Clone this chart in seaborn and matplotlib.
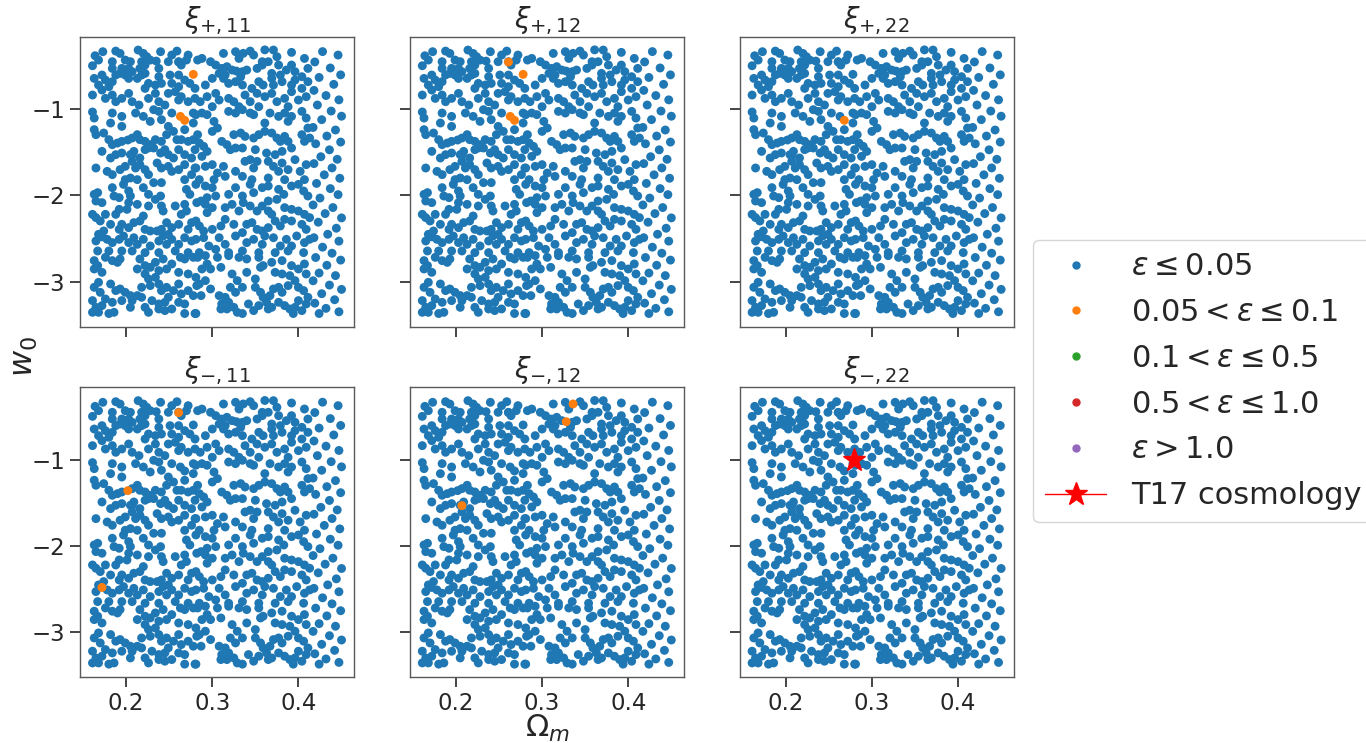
import numpy as np
import pandas as pd
import seaborn as sns
import matplotlib.pyplot as plt
from matplotlib.lines import Line2D

# cosmologies of the sample (Omega_m, w0), same in all six
special = [(0.278, -0.594), (0.263, -1.082), (0.268, -1.128), (0.261, -0.451), (0.202, -1.356),
           (0.172, -2.48), (0.336, -0.35), (0.328, -0.556), (0.207, -1.53)]

region_a = [(0.164, -0.378), (0.173, -0.331), (0.161, -0.494), (0.168, -0.428), (0.184, -0.447), (0.188, -0.324),
            (0.193, -0.351), (0.184, -0.525), (0.199, -0.428), (0.205, -0.447), (0.195, -0.525), (0.203, -0.525),
            (0.214, -0.312), (0.220, -0.351), (0.224, -0.389), (0.218, -0.447), (0.216, -0.525), (0.222, -0.486),
            (0.228, -0.428), (0.235, -0.440), (0.240, -0.331), (0.238, -0.525), (0.249, -0.447), (0.259, -0.324),
            (0.253, -0.370), (0.261, -0.447), (0.264, -0.486), (0.272, -0.370), (0.270, -0.428),
            (0.163, -0.641), (0.172, -0.602), (0.176, -0.660), (0.168, -0.718), (0.180, -0.737), (0.184, -0.679),
            (0.188, -0.602), (0.193, -0.583), (0.199, -0.602), (0.203, -0.641), (0.207, -0.563), (0.213, -0.641),
            (0.218, -0.602), (0.222, -0.583), (0.226, -0.699), (0.234, -0.718), (0.238, -0.621), (0.241, -0.699),
            (0.251, -0.602), (0.253, -0.699), (0.261, -0.602), (0.261, -0.737), (0.268, -0.660), (0.274, -0.699),
            (0.280, -0.757),
            (0.161, -0.834), (0.172, -0.776), (0.176, -0.873), (0.184, -0.834), (0.188, -0.911), (0.195, -0.873),
            (0.203, -0.815), (0.207, -0.911), (0.215, -0.950), (0.222, -0.757), (0.226, -0.873), (0.234, -0.815),
            (0.238, -0.911), (0.249, -0.815), (0.245, -0.950), (0.257, -0.795), (0.261, -0.892), (0.264, -0.853),
            (0.272, -0.911), (0.280, -0.873)]

region_b = [(0.313, -0.351), (0.327, -0.331), (0.331, -0.409), (0.344, -0.324), (0.348, -0.370), (0.361, -0.310),
            (0.371, -0.312), (0.375, -0.389), (0.358, -0.447), (0.392, -0.339), (0.392, -0.486), (0.407, -0.409),
            (0.411, -0.525),
            (0.283, -0.428), (0.288, -0.409), (0.298, -0.447), (0.304, -0.486), (0.311, -0.525), (0.317, -0.505),
            (0.323, -0.544), (0.308, -0.583), (0.315, -0.602), (0.335, -0.563), (0.340, -0.544), (0.352, -0.525),
            (0.358, -0.486), (0.365, -0.447), (0.369, -0.583), (0.377, -0.486), (0.379, -0.602), (0.386, -0.544),
            (0.396, -0.563), (0.404, -0.621),
            (0.292, -0.718), (0.300, -0.641), (0.313, -0.641), (0.319, -0.699), (0.327, -0.679), (0.335, -0.718),
            (0.333, -0.621), (0.346, -0.757), (0.354, -0.679), (0.359, -0.718), (0.369, -0.641), (0.371, -0.718),
            (0.381, -0.679), (0.392, -0.718), (0.396, -0.660), (0.404, -0.757), (0.411, -0.679),
            (0.286, -0.911), (0.294, -0.853), (0.304, -0.815), (0.308, -0.892), (0.319, -0.873), (0.325, -0.911),
            (0.338, -0.834), (0.344, -0.911), (0.352, -0.815), (0.361, -0.853), (0.369, -0.815), (0.375, -0.911),
            (0.384, -0.873), (0.392, -0.795), (0.400, -0.892), (0.409, -0.853), (0.300, -0.969), (0.331, -0.969),
            (0.354, -0.969), (0.388, -0.969)]

region_c = [(0.161, -1.031), (0.163, -1.101), (0.184, -1.043), (0.182, -1.159), (0.195, -1.082), (0.195, -1.198),
            (0.211, -1.043), (0.220, -1.082), (0.228, -1.140), (0.232, -1.004), (0.238, -1.024), (0.241, -1.120),
            (0.249, -1.198), (0.255, -1.256), (0.268, -1.236), (0.278, -1.159), (0.278, -1.043), (0.253, -1.043),
            (0.163, -1.236), (0.165, -1.294), (0.174, -1.275), (0.180, -1.352), (0.184, -1.410), (0.190, -1.391),
            (0.195, -1.372), (0.207, -1.333), (0.213, -1.294), (0.216, -1.352), (0.222, -1.372),
            (0.228, -1.410), (0.234, -1.352), (0.241, -1.372), (0.247, -1.294), (0.259, -1.352), (0.264, -1.352),
            (0.272, -1.372), (0.278, -1.352),
            (0.172, -1.488), (0.182, -1.565), (0.188, -1.526), (0.195, -1.507), (0.205, -1.526), (0.209, -1.488),
            (0.216, -1.565), (0.222, -1.468), (0.226, -1.449), (0.232, -1.449), (0.240, -1.507), (0.245, -1.468),
            (0.249, -1.526), (0.255, -1.565), (0.261, -1.468), (0.268, -1.526), (0.276, -1.565), (0.280, -1.468),
            (0.165, -1.681), (0.178, -1.720), (0.184, -1.758), (0.193, -1.700), (0.199, -1.662), (0.207, -1.604),
            (0.211, -1.681), (0.216, -1.642), (0.222, -1.700), (0.226, -1.758), (0.236, -1.623), (0.241, -1.681),
            (0.249, -1.662), (0.253, -1.720), (0.261, -1.700), (0.268, -1.642), (0.276, -1.758), (0.205, -1.797),
            (0.213, -1.816), (0.199, -1.816), (0.268, -1.816), (0.280, -1.681)]

region_d = [(0.281, -1.062), (0.288, -1.043), (0.294, -1.062), (0.302, -1.140), (0.306, -1.217), (0.300, -1.256),
            (0.319, -1.024), (0.327, -1.043), (0.335, -1.004), (0.344, -1.043), (0.348, -1.062), (0.367, -1.043),
            (0.377, -1.082), (0.384, -1.043), (0.388, -1.140), (0.392, -1.082), (0.404, -1.024), (0.409, -1.101),
            (0.411, -1.217),
            (0.283, -1.294), (0.285, -1.391), (0.290, -1.430), (0.294, -1.488), (0.288, -1.546), (0.311, -1.372),
            (0.317, -1.410), (0.321, -1.468), (0.327, -1.449), (0.325, -1.294), (0.333, -1.275), (0.338, -1.314),
            (0.335, -1.449), (0.348, -1.333), (0.354, -1.294), (0.361, -1.159), (0.361, -1.256), (0.369, -1.275),
            (0.375, -1.333), (0.379, -1.372), (0.384, -1.314), (0.388, -1.372), (0.392, -1.449), (0.404, -1.294),
            (0.407, -1.372), (0.413, -1.333), (0.350, -1.468), (0.363, -1.507), (0.373, -1.526), (0.381, -1.488),
            (0.281, -1.681), (0.292, -1.662), (0.300, -1.642), (0.306, -1.739), (0.313, -1.662), (0.315, -1.778),
            (0.327, -1.720), (0.335, -1.778), (0.338, -1.604), (0.344, -1.584), (0.348, -1.681), (0.352, -1.604),
            (0.365, -1.604), (0.371, -1.662), (0.377, -1.720), (0.381, -1.623), (0.388, -1.700), (0.396, -1.584),
            (0.402, -1.720), (0.409, -1.642), (0.285, -1.816), (0.302, -1.816), (0.346, -1.816), (0.365, -1.797),
            (0.384, -1.816), (0.407, -1.816)]

region_e = [(0.163, -1.987), (0.167, -1.967), (0.165, -2.064), (0.172, -2.083), (0.184, -1.909), (0.186, -2.006),
            (0.192, -2.025), (0.197, -1.871), (0.203, -1.948), (0.205, -2.006), (0.203, -2.083), (0.213, -2.103),
            (0.220, -1.909), (0.226, -1.987), (0.226, -2.122), (0.234, -2.045), (0.240, -2.006), (0.241, -2.122),
            (0.243, -2.180), (0.232, -1.851), (0.241, -1.851), (0.270, -1.929), (0.274, -1.987), (0.268, -2.103),
            (0.257, -2.122), (0.270, -2.180), (0.264, -2.219), (0.282, -2.083),
            (0.161, -2.219), (0.165, -2.257), (0.170, -2.296), (0.176, -2.219), (0.182, -2.335), (0.188, -2.219),
            (0.195, -2.335), (0.192, -2.393), (0.203, -2.373), (0.209, -2.315), (0.216, -2.296), (0.220, -2.238),
            (0.222, -2.393), (0.228, -2.412), (0.236, -2.412), (0.241, -2.393), (0.247, -2.315), (0.253, -2.373),
            (0.249, -2.451), (0.261, -2.335), (0.276, -2.315), (0.272, -2.393), (0.192, -2.161), (0.201, -2.161),
            (0.165, -2.528), (0.168, -2.451), (0.174, -2.412), (0.178, -2.509), (0.184, -2.547), (0.192, -2.509),
            (0.197, -2.470), (0.203, -2.547), (0.209, -2.490), (0.213, -2.567), (0.220, -2.509), (0.228, -2.586),
            (0.238, -2.528), (0.243, -2.470), (0.247, -2.567), (0.253, -2.509), (0.261, -2.567), (0.268, -2.490),
            (0.276, -2.528), (0.167, -2.644), (0.180, -2.644), (0.195, -2.644), (0.207, -2.644), (0.222, -2.663),
            (0.238, -2.663), (0.257, -2.644), (0.272, -2.663)]

region_f = [(0.281, -1.871), (0.292, -1.890), (0.300, -1.909), (0.304, -2.006), (0.294, -2.025), (0.287, -2.064),
            (0.319, -1.987), (0.327, -1.909), (0.335, -2.006), (0.336, -2.083), (0.344, -1.871), (0.348, -1.967),
            (0.358, -1.909), (0.365, -1.890), (0.377, -1.929), (0.383, -1.987), (0.392, -1.890), (0.400, -1.871),
            (0.406, -1.948), (0.411, -2.006), (0.365, -2.064), (0.375, -2.045),
            (0.292, -2.103), (0.300, -2.141), (0.294, -2.199), (0.315, -2.141), (0.323, -2.103), (0.331, -2.180),
            (0.344, -2.122), (0.352, -2.180), (0.358, -2.122), (0.365, -2.180), (0.369, -2.219), (0.373, -2.296),
            (0.384, -2.141), (0.392, -2.161), (0.400, -2.180), (0.407, -2.219), (0.413, -2.257), (0.281, -2.296),
            (0.285, -2.354), (0.290, -2.412), (0.300, -2.393), (0.310, -2.354), (0.315, -2.277), (0.325, -2.335),
            (0.340, -2.335), (0.346, -2.315), (0.352, -2.393), (0.358, -2.412), (0.365, -2.373), (0.379, -2.354),
            (0.384, -2.277), (0.392, -2.296), (0.404, -2.335), (0.409, -2.393),
            (0.281, -2.509), (0.290, -2.490), (0.296, -2.586), (0.308, -2.490), (0.315, -2.567), (0.327, -2.470),
            (0.335, -2.431), (0.340, -2.547), (0.348, -2.509), (0.358, -2.567), (0.361, -2.470), (0.371, -2.490),
            (0.379, -2.586), (0.386, -2.509), (0.392, -2.586), (0.398, -2.470), (0.407, -2.547), (0.413, -2.509),
            (0.285, -2.663), (0.304, -2.625), (0.319, -2.663), (0.335, -2.644), (0.354, -2.663), (0.373, -2.663),
            (0.388, -2.644), (0.406, -2.663)]

region_g = [(0.163, -2.756), (0.167, -2.814), (0.163, -2.853), (0.176, -2.718), (0.184, -2.756), (0.190, -2.776),
            (0.193, -2.737), (0.172, -2.892), (0.216, -2.737), (0.222, -2.814), (0.228, -2.834), (0.234, -2.776),
            (0.238, -2.872), (0.243, -2.737), (0.247, -2.853), (0.253, -2.795), (0.263, -2.718), (0.268, -2.737),
            (0.278, -2.718), (0.261, -2.892), (0.272, -2.911), (0.213, -2.853), (0.222, -2.911), (0.234, -2.950),
            (0.163, -3.066), (0.168, -3.008), (0.170, -3.124), (0.182, -3.027), (0.188, -3.104), (0.193, -3.085),
            (0.199, -3.124), (0.205, -3.162), (0.213, -3.162), (0.207, -3.220), (0.218, -3.182), (0.218, -3.066),
            (0.228, -3.046), (0.226, -2.969), (0.238, -3.027), (0.241, -3.104), (0.247, -3.066), (0.249, -3.182),
            (0.255, -3.104), (0.261, -3.027), (0.264, -3.143), (0.272, -3.104), (0.278, -3.162), (0.282, -3.046),
            (0.161, -3.220), (0.176, -3.201), (0.165, -3.298), (0.172, -3.278), (0.184, -3.240), (0.195, -3.220),
            (0.230, -3.220), (0.238, -3.259), (0.245, -3.240), (0.261, -3.240), (0.268, -3.259),
            (0.161, -3.356), (0.168, -3.356), (0.180, -3.370), (0.186, -3.356), (0.205, -3.298), (0.222, -3.298),
            (0.226, -3.356), (0.238, -3.317), (0.245, -3.336), (0.253, -3.317), (0.268, -3.370), (0.280, -3.370)]

region_h = [(0.283, -2.718), (0.292, -2.698), (0.294, -2.795), (0.288, -2.853), (0.298, -2.853), (0.306, -2.718),
            (0.319, -2.698), (0.331, -2.718), (0.340, -2.737), (0.354, -2.718), (0.359, -2.814), (0.369, -2.776),
            (0.381, -2.756), (0.392, -2.814), (0.400, -2.853), (0.407, -2.795), (0.409, -2.911), (0.310, -2.834),
            (0.323, -2.911), (0.329, -2.988), (0.340, -2.892), (0.350, -2.969), (0.356, -2.834), (0.373, -2.892),
            (0.381, -2.911), (0.390, -2.930), (0.396, -2.988),
            (0.281, -2.950), (0.285, -3.027), (0.292, -2.988), (0.298, -3.085), (0.287, -3.162), (0.308, -3.162),
            (0.315, -3.182), (0.321, -3.066), (0.327, -3.124), (0.335, -3.066), (0.350, -3.066), (0.356, -3.124),
            (0.359, -3.182), (0.367, -3.162), (0.371, -3.085), (0.377, -3.066), (0.381, -3.124), (0.388, -3.046),
            (0.400, -3.066), (0.406, -3.104), (0.411, -3.182), (0.311, -3.259), (0.319, -3.240), (0.325, -3.298),
            (0.342, -3.259), (0.354, -3.278), (0.363, -3.240), (0.369, -3.298), (0.377, -3.240), (0.384, -3.278),
            (0.396, -3.298), (0.400, -3.220), (0.409, -3.259),
            (0.281, -3.370), (0.310, -3.317), (0.317, -3.317), (0.329, -3.356), (0.335, -3.370), (0.348, -3.336),
            (0.365, -3.317), (0.390, -3.317), (0.394, -3.370), (0.404, -3.336)]

# right-hand strip, Omega_m above ~0.415
region_r = [(0.428, -0.33), (0.446, -0.37), (0.419, -0.45), (0.437, -0.52), (0.449, -0.60), (0.424, -0.63),
            (0.441, -0.71), (0.418, -0.78), (0.432, -0.84), (0.447, -0.89), (0.422, -0.95), (0.438, -1.02),
            (0.450, -1.08), (0.427, -1.12), (0.417, -1.21), (0.443, -1.24), (0.433, -1.31), (0.449, -1.38),
            (0.420, -1.40), (0.436, -1.47), (0.426, -1.55), (0.445, -1.58), (0.418, -1.63), (0.439, -1.68),
            (0.430, -1.76), (0.448, -1.80), (0.421, -1.86), (0.437, -1.92), (0.446, -1.99), (0.425, -2.03),
            (0.417, -2.11), (0.440, -2.14), (0.431, -2.21), (0.450, -2.26), (0.423, -2.31), (0.444, -2.38),
            (0.434, -2.45), (0.418, -2.49), (0.447, -2.53), (0.428, -2.60), (0.439, -2.67), (0.420, -2.72),
            (0.449, -2.75), (0.433, -2.81), (0.424, -2.90), (0.443, -2.93), (0.417, -2.99), (0.436, -3.04),
            (0.450, -3.09), (0.427, -3.14), (0.442, -3.21), (0.419, -3.25), (0.432, -3.31), (0.447, -3.35),
            (0.424, -3.37)]

panel_titles = [r"$\xi_{+,11}$", r"$\xi_{+,12}$", r"$\xi_{+,22}$",
                r"$\xi_{-,11}$", r"$\xi_{-,12}$", r"$\xi_{-,22}$"]
# indices (into the sample) of the points with 0.05 < eps <= 0.1 in each panel
orange_idx = [[0, 1, 2], [0, 1, 2, 3], [2], [3, 4, 5], [6, 7, 8], []]

levels = [r"$\varepsilon \leq 0.05$", r"$0.05 < \varepsilon \leq 0.1$", r"$0.1 < \varepsilon \leq 0.5$",
          r"$0.5 < \varepsilon \leq 1.0$", r"$\varepsilon > 1.0$"]
level_colors = ["#1f77b4", "#ff7f0e", "#2ca02c", "#d62728", "#9467bd"]
t17_om, t17_w0 = 0.279, -1.0

pts = np.array(special + region_a + region_b + region_c + region_d + region_e + region_f
               + region_g + region_h + region_r)
om, w0 = pts[:, 0], pts[:, 1]

sns.set_style("ticks")
plt.rcParams['font.family'] = ['DejaVu Sans']
plt.rcParams['mathtext.fontset'] = 'dejavusans'

fig, axes = plt.subplots(2, 3, figsize=(13.66, 7.43), dpi=100, sharex=True, sharey=True)
fig.subplots_adjust(left=0.0586, right=0.742, top=0.9506, bottom=0.0884, wspace=0.204, hspace=0.209)
pal = dict(zip(levels, level_colors))

for k, ax in enumerate(axes.flat):
    cat = np.array([levels[0]] * len(om), dtype=object)
    cat[orange_idx[k]] = levels[1]
    df = pd.DataFrame({"Om": om, "w0": w0, "eps": cat})
    df = df.iloc[np.argsort(df["eps"] != levels[0], kind="stable")]
    sns.scatterplot(data=df, x="Om", y="w0", hue="eps", palette=pal, hue_order=levels,
                    s=41, linewidth=0, alpha=1, ax=ax, legend=False)
    if k == 5:
        ax.plot([t17_om], [t17_w0], marker="*", color="red", ms=17, linestyle="-")
    ax.set_title(panel_titles[k], fontsize=20, pad=2)
    ax.set_xlabel("")
    ax.set_ylabel("")
    ax.set_xticks([0.2, 0.3, 0.4])
    ax.set_yticks([-1, -2, -3])
    ax.tick_params(labelsize=16.5, length=7, width=1.2, color="0.15")
    for sp in ax.spines.values():
        sp.set_color("0.35")
        sp.set_linewidth(1.0)

fig.text(547 / 1366, 1 - 737 / 743, r"$\Omega_m$", fontsize=22, ha="center", va="baseline")
fig.text(24 / 1366, 1 - 357 / 743, r"$w_0$", fontsize=23, ha="center", va="center", rotation=90)

handles = [Line2D([], [], marker="o", linestyle="", color=c, markersize=5) for c in level_colors]
handles.append(Line2D([], [], marker="*", color="red", markersize=17, linewidth=1))
fig.legend(handles, levels + ["T17 cosmology"], loc="upper left", bbox_to_anchor=(1033 / 1366, 1 - 240 / 743),
           fontsize=22, handlelength=2.0, labelspacing=0.55, frameon=True, borderaxespad=0)

fig.savefig("out.png", dpi=100)
